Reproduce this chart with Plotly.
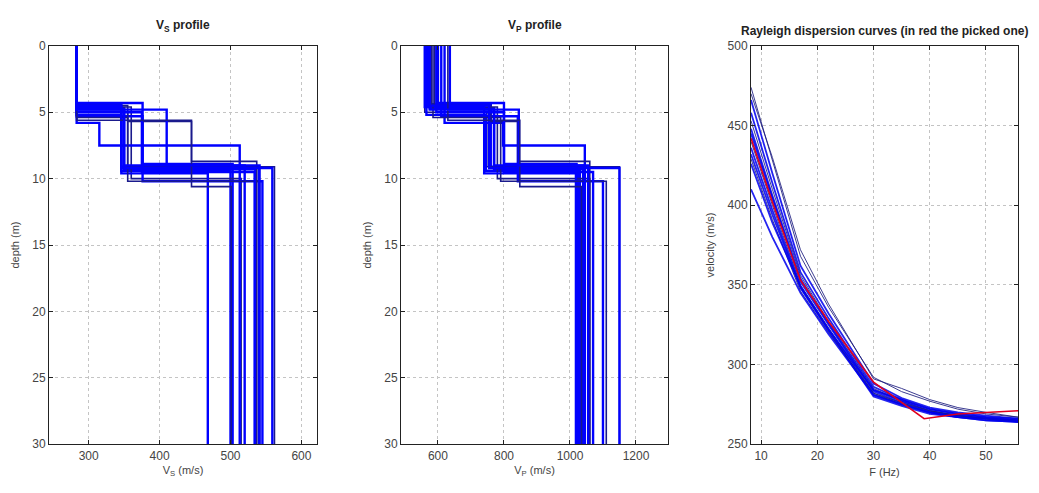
import plotly.graph_objects as go

# ---------------- data ----------------
# layered models: velocities per layer (top -> halfspace) and interface depths (m)
vs_layers = [
    [283, 346, 540], [283, 350, 535], [283, 355, 562], [283, 376, 503],
    [283, 346, 500], [283, 360, 515], [283, 376, 545], [283, 315, 513],
    [283, 355, 445, 537], [283, 410, 520], [283, 346, 468], [283, 355, 541],
    [283, 346, 559], [283, 375, 534], [283, 445, 501], [283, 350, 541],
]
vp_layers = [
    [570, 760, 1030], [575, 770, 1040], [560, 748, 1150], [600, 800, 1020],
    [565, 745, 1025], [580, 780, 1060], [610, 842, 1100], [620, 797, 1045],
    [590, 760, 842, 1060], [636, 845, 1055], [560, 740, 1018], [585, 790, 1110],
    [570, 755, 1150], [595, 800, 1070], [630, 848, 1035], [575, 770, 1045],
]
interfaces = [
    [4.4, 9.1], [4.7, 9.3], [5.0, 9.1], [4.3, 8.9],
    [5.2, 9.4], [4.6, 10.0], [5.3, 10.2], [5.8, 7.5],
    [4.5, 5.7, 8.7], [4.8, 9.0], [4.6, 9.6], [5.4, 10.2],
    [4.5, 9.2], [5.0, 9.5], [5.6, 10.6], [4.8, 9.0],
]
max_depth = 30

freq = [8.2, 12, 17, 22, 30, 35, 40, 45, 50, 55.7]
disp_curves = [
    [474, 428, 368, 336, 292, 283, 277, 272, 269, 267],
    [466, 420, 362, 332, 288, 279, 273, 270, 268, 266],
    [458, 414, 358, 329, 286, 278, 272, 269, 267, 265],
    [453, 410, 356, 327, 285, 277, 271, 268, 266, 265],
    [448, 406, 354, 326, 284, 277, 271, 268, 266, 265],
    [445, 404, 352, 325, 283, 276, 270, 268, 266, 264],
    [440, 400, 350, 323, 282, 275, 270, 267, 266, 264],
    [436, 397, 349, 322, 281, 275, 270, 267, 265, 264],
    [432, 394, 348, 321, 280, 274, 269, 267, 265, 264],
    [429, 391, 346, 320, 282, 276, 271, 268, 266, 265],
    [426, 389, 349, 322, 284, 278, 272, 269, 267, 266],
    [410, 380, 345, 319, 281, 275, 270, 267, 266, 265],
    [470, 430, 372, 338, 291, 285, 278, 273, 270, 267],
]
picked_freq = [8.2, 12, 17, 22, 30, 39, 45, 50, 55.7]
picked_vel = [442, 402, 353, 327, 289, 266, 269, 270, 271]

# ---------------- figure ----------------
W, H = 1039, 493
fig = go.Figure()

def step_xy(vals, deps):
    xs, ys = [], []
    tops = [0] + list(deps)
    bots = list(deps) + [max_depth]
    for v, t, b in zip(vals, tops, bots):
        xs += [v, v]
        ys += [t, b]
    return xs, ys

for i, (vals, deps) in enumerate(zip(vs_layers, interfaces)):
    xs, ys = step_xy(vals, deps)
    dark = i % 3 == 2
    fig.add_trace(go.Scatter(x=xs, y=ys, mode="lines", xaxis="x", yaxis="y",
                             line=dict(color="#1a1a8c" if dark else "#0000ff",
                                       width=1.6 if dark else 2.4),
                             showlegend=False, hoverinfo="skip"))
for i, (vals, deps) in enumerate(zip(vp_layers, interfaces)):
    xs, ys = step_xy(vals, deps)
    dark = i % 3 == 2
    fig.add_trace(go.Scatter(x=xs, y=ys, mode="lines", xaxis="x2", yaxis="y2",
                             line=dict(color="#1a1a8c" if dark else "#0000ff",
                                       width=1.6 if dark else 2.4),
                             showlegend=False, hoverinfo="skip"))
for i, c in enumerate(disp_curves):
    dark = i % 3 == 0
    fig.add_trace(go.Scatter(x=freq, y=c, mode="lines", xaxis="x3", yaxis="y3",
                             line=dict(color="#1c1c80" if dark else "#0000ee",
                                       width=1.0 if dark else 1.8),
                             opacity=0.85, showlegend=False, hoverinfo="skip"))
fig.add_trace(go.Scatter(x=picked_freq, y=picked_vel, mode="lines", xaxis="x3", yaxis="y3",
                         line=dict(color="#e0001e", width=1.6),
                         showlegend=False, hoverinfo="skip"))

ydom = [1 - 450 / H, 1 - 40 / H]
tickfont = dict(family="Liberation Sans, Arial", size=12, color="#444")
common = dict(showline=True, linecolor="#222", linewidth=1, mirror="allticks",
              ticks="inside", ticklen=4, tickcolor="#222", showgrid=True,
              gridcolor="#c4c4c4", griddash="dot", gridwidth=1, zeroline=False,
              tickfont=tickfont,
              title_font=dict(family="Liberation Sans, Arial", size=11, color="#444"))

fig.update_layout(
    width=W, height=H, margin=dict(l=0, r=0, t=0, b=0),
    paper_bgcolor="white", plot_bgcolor="white",
    xaxis=dict(domain=[49 / W, 317 / W], range=[244, 622], tickvals=[300, 400, 500, 600],
               title=dict(text="V<sub>S</sub> (m/s)", standoff=4), anchor="y", **common),
    yaxis=dict(domain=ydom, range=[30, 0], tickvals=[0, 5, 10, 15, 20, 25, 30],
               title=dict(text="depth (m)", standoff=10), anchor="x", **common),
    xaxis2=dict(domain=[401 / W, 668 / W], range=[488, 1297], tickvals=[600, 800, 1000, 1200],
                title=dict(text="V<sub>P</sub> (m/s)", standoff=4), anchor="y2", **common),
    yaxis2=dict(domain=ydom, range=[30, 0], tickvals=[0, 5, 10, 15, 20, 25, 30],
                title=dict(text="depth (m)", standoff=10), anchor="x2", **common),
    xaxis3=dict(domain=[751 / W, 1018 / W], range=[8.2, 55.7], tickvals=[10, 20, 30, 40, 50],
                title=dict(text="F (Hz)", standoff=6), anchor="y3", **common),
    yaxis3=dict(domain=ydom, range=[250, 500], tickvals=[250, 300, 350, 400, 450, 500],
                title=dict(text="velocity (m/s)", standoff=10), anchor="x3", **common),
)

titlefont = dict(family="Liberation Sans, Arial", size=12, color="#222")
for xc, yc, txt in [((49 + 317) / 2, 20, "<b>V<sub>S</sub> profile</b>"),
                    ((401 + 668) / 2, 20, "<b>V<sub>P</sub> profile</b>"),
                    ((751 + 1018) / 2, 25, "<b>Rayleigh dispersion curves (in red the picked one)</b>")]:
    fig.add_annotation(x=xc / W, y=1 - yc / H, xref="paper", yref="paper", text=txt,
                       showarrow=False, font=titlefont, xanchor="center", yanchor="middle")

fig.write_html("out.html")
